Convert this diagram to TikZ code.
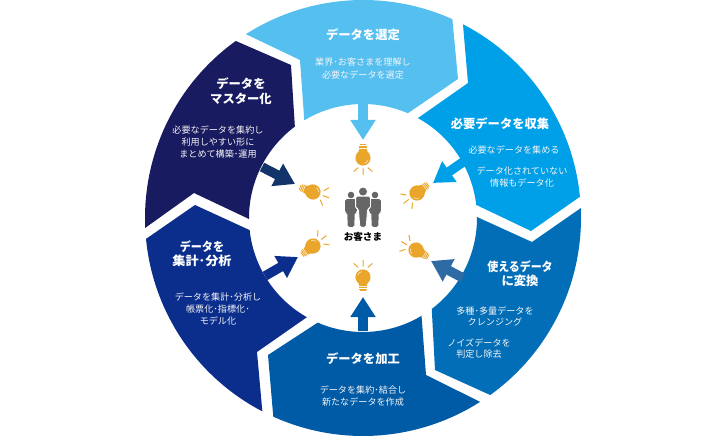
\documentclass[tikz,border=0pt]{standalone}
\usepackage{fontspec}
\usepackage{graphicx}
\setmainfont{Noto Sans CJK JP}
\usetikzlibrary{arrows.meta}
\definecolor{cA}{HTML}{55BFF0}
\definecolor{cB}{HTML}{00A0E9}
\definecolor{cC}{HTML}{036EB8}
\definecolor{cD}{HTML}{005BA6}
\definecolor{cE}{HTML}{0B2E8C}
\definecolor{cF}{HTML}{191B60}
\definecolor{arC}{HTML}{2E6BA5}
\definecolor{arF}{HTML}{12346B}
\definecolor{bulbc}{HTML}{EAA62B}
\definecolor{gman}{HTML}{666666}
\tikzset{
  x=1pt,y=1pt,
  ttl/.style={text=white,font=\fontsize{12.3}{14}\selectfont\bfseries,inner sep=0pt,align=center},
  bod/.style={text=white!92!gray,font=\fontsize{9.1}{11}\selectfont,inner sep=0pt,align=center},
  flow/.style={line width=9.5pt,-{Triangle[length=20pt,width=24pt]}},
  ray/.style={draw=bulbc,line width=1pt},
  bulb/.pic={
    \fill[bulbc] (0,0) circle (7.6);
    \fill[bulbc] (-6.4,3.9) .. controls (-4.6,6) and (-3.8,7) .. (-3.6,9.2) -- (3.6,9.2) .. controls (3.8,7) and (4.6,6) .. (6.4,3.9) -- cycle;
    \draw[bulbc,line width=.9pt] (-3.8,10.4) -- (3.8,10.4) (-3.6,12) -- (3.6,12) (-2.6,13.6) -- (2.6,13.6);
    \draw[white,line width=.4pt] (-20:5.6) arc[start angle=-20,end angle=-75,radius=5.6pt];
    \draw[ray] (0,-10.5) -- (0,-17) (-4.8,-9.6) -- (-9.4,-13.6) (4.8,-9.6) -- (9.4,-13.6);
  },
  man/.pic={
    \fill[gman] (0,7.4) circle (4);
    \fill[gman,draw=white,line width=.8pt,rounded corners=1.6pt] (-7.4,2.8) -- (7.4,2.8) -- (7.4,-9.5) -- (4.6,-9.5) -- (3.2,-28.2) -- (-3.2,-28.2) -- (-4.6,-9.5) -- (-7.4,-9.5) -- cycle;
  },
  sideman/.pic={
    \fill[gman] (0,2) circle (3.3);
    \fill[gman,rounded corners=1.5pt] (-5.8,-2.2) -- (5.8,-2.2) -- (5.8,-15.5) -- (3.8,-15.5) -- (3.2,-30) -- (-3.2,-30) -- (-3.8,-15.5) -- (-5.8,-15.5) -- cycle;
  },
}
\begin{document}
\begin{tikzpicture}
\useasboundingbox (-363,-218) rectangle (365,218);
\coordinate (c) at (0,0);
% segments
\fill[cA] (122.5:218pt) arc[start angle=122.5,end angle=65.8,radius=218pt] -- (95,139) -- (66.8:114pt) arc[start angle=66.8,end angle=121,radius=114pt] -- (-63,158) -- cycle;
\fill[cB] (62.7:218pt) arc[start angle=62.7,end angle=5.6,radius=218pt] -- (168,-13) -- (6.6:114pt) arc[start angle=6.6,end angle=61.2,radius=114pt] -- (105,135) -- cycle;
\fill[cC] (2.6:218pt) arc[start angle=2.6,end angle=-54.3,radius=218pt] -- (72,-152) -- (-52.9:114pt) arc[start angle=-52.9,end angle=0.5,radius=114pt] -- (169,-24) -- cycle;
\fill[cD] (-57.5:218pt) arc[start angle=-57.5,end angle=-114.3,radius=218pt] -- (-95,-137) -- (-113.4:114pt) arc[start angle=-113.4,end angle=-59.1,radius=114pt] -- (63,-157) -- cycle;
\fill[cE] (-117.5:218pt) arc[start angle=-117.5,end angle=-174.5,radius=218pt] -- (-168,13) -- (-173.9:114pt) arc[start angle=-173.9,end angle=-119.5,radius=114pt] -- (-106,-134) -- cycle;
\fill[cF] (182.6:218pt) arc[start angle=182.6,end angle=125.7,radius=218pt] -- (-72,153) -- (126.7:114pt) arc[start angle=126.7,end angle=180.5,radius=114pt] -- (-169,25) -- cycle;
% arrows
\coordinate (a1) at (0,116); \coordinate (b1) at (0,78);
\coordinate (a2) at (100,56); \coordinate (b2) at (70,35);
\coordinate (a3) at (100,-60); \coordinate (b3) at (68,-43);
\coordinate (a4) at (0,-113); \coordinate (b4) at (0,-79);
\coordinate (a5) at (-98,-58); \coordinate (b5) at (-65,-39);
\coordinate (a6) at (-101,51); \coordinate (b6) at (-68,34);
\draw[flow,cA] (a1) -- (b1);
\draw[flow,cB] (a2) -- (b2);
\draw[flow,arC] (a3) -- (b3);
\draw[flow,cD] (a4) -- (b4);
\draw[flow,cE] (a5) -- (b5);
\draw[flow,arF] (a6) -- (b6);
% bulbs
\pic at (0,60) {bulb};
\pic[rotate=-52] at (54,25) {bulb};
\pic[rotate=-120] at (53,-32) {bulb};
\pic[rotate=180] at (0,-59) {bulb};
\pic[rotate=128] at (-50,-28) {bulb};
\pic[rotate=70] at (-50,26) {bulb};
% people
\pic at (-12,21) {sideman};
\pic at (12,21) {sideman};
\pic at (0,19) {man};
\node[inner sep=0pt,text=black,font=\fontsize{9.6}{11}\selectfont\bfseries] (cust) at (0,-19) {お客さま};
% text
\begin{scope}[x=1pt,y=-1pt,shift={(-363pt,218pt)}]
\node[ttl] (t1) at (363,35) {データを選定};
\node[bod] (b1a) at (363,62) {業界･お客さまを理解し};
\node[bod] (b1b) at (363,75) {必要なデータを選定};
\node[ttl] (t2) at (500,124) {必要データを収集};
\node[bod] (b2a) at (514,150) {必要なデータを集める};
\node[bod] (b2b) at (522,171) {データ化されていない};
\node[bod] (b2c) at (522,183) {情報もデータ化};
\node[ttl] (t3a) at (520,267) {\scalebox{.89}[1]{使えるデータ}};
\node[ttl] (t3b) at (520,281) {に変換};
\node[bod] (b3a) at (495,311) {多種･多量データを};
\node[bod] (b3b) at (495,322) {クレンジング};
\node[bod] (b3c) at (479,343) {ノイズデータを};
\node[bod] (b3d) at (479,354) {判定し除去};
\node[ttl] (t4) at (363,359) {データを加工};
\node[bod] (b4a) at (363,390) {データを集約･結合し};
\node[bod] (b4b) at (363,402) {新たなデータを作成};
\node[ttl] (t5a) at (202,247) {\scalebox{.9}[1]{データを}};
\node[ttl] (t5b) at (202,261) {\scalebox{1.07}[1]{集計･分析}};
\node[bod] (b5a) at (218,297) {データを集計･分析し};
\node[bod] (b5b) at (218,309) {帳票化･指標化･};
\node[bod] (b5c) at (218,321) {モデル化};
\node[ttl] (t6a) at (241,84) {データを};
\node[ttl] (t6b) at (241,99) {マスター化};
\node[bod] (b6a) at (218,130) {必要なデータを集約し};
\node[bod] (b6b) at (218,142) {利用しやすい形に};
\node[bod] (b6c) at (218,154) {まとめて構築･運用};
\end{scope}
\end{tikzpicture}
\end{document}
